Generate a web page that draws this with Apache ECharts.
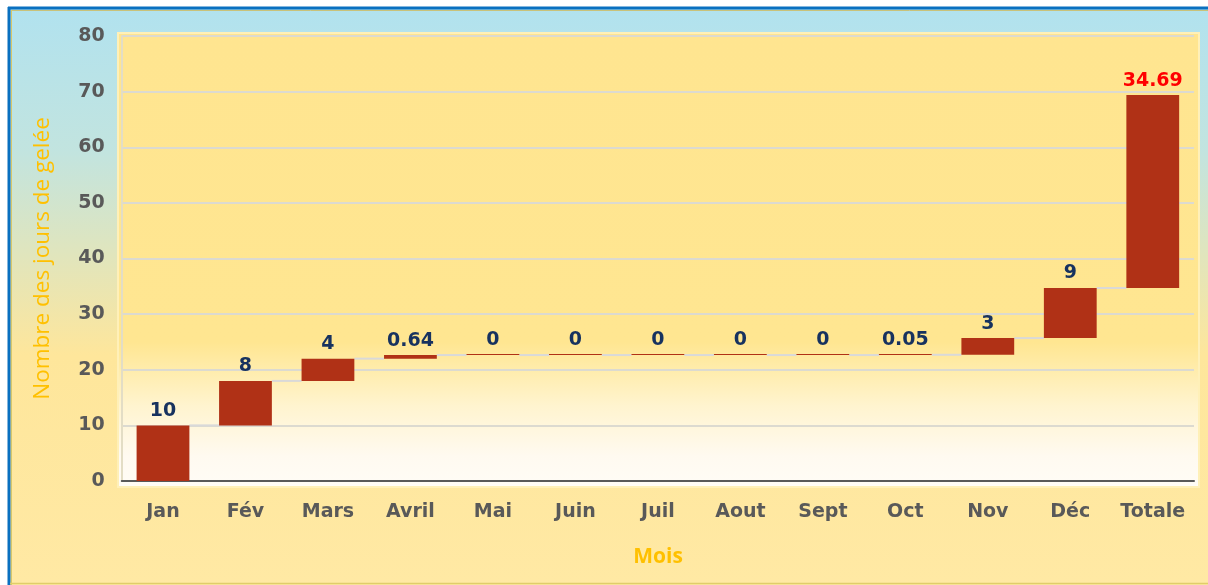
<!DOCTYPE html>
<html>
<head>
<meta charset="utf-8">
<script src="https://cdn.jsdelivr.net/npm/echarts@6/dist/echarts.min.js"></script>
<style>
html,body{margin:0;padding:0;background:#ffffff;}
#chart{width:1208px;height:585px;}
</style>
</head>
<body>
<div id="chart"></div>
<script>
var categories = ['Jan','Fév','Mars','Avril','Mai','Juin','Juil','Aout','Sept','Oct','Nov','Déc','Totale'];
var monthValues = [10, 8, 4, 0.64, 0, 0, 0, 0, 0, 0.05, 3, 9];
var totalValue = 34.69;
var yTicks = [0, 10, 20, 30, 40, 50, 60, 70, 80];

// waterfall bases derived from the monthly values
var bases = [];
var ends = [];
var run = 0;
for (var i = 0; i < monthValues.length; i++) {
  bases.push(+run.toFixed(2));
  run += monthValues[i];
  ends.push(+run.toFixed(2));
}
bases.push(+run.toFixed(2));
ends.push(+(run).toFixed(2));
var visible = monthValues.concat([totalValue]);

var connectorData = [];
for (var j = 0; j < categories.length - 1; j++) connectorData.push([j, ends[j]]);

var chart = echarts.init(document.getElementById('chart'), null, {renderer:'canvas'});
var numFont = '"DejaVu Sans", Verdana, sans-serif';

chart.setOption({
  animation: false,
  graphic: [
    {
      type: 'rect', z: -20, silent: true,
      shape: {x: 9, y: 7, width: 1205, height: 580},
      style: {
        fill: new echarts.graphic.LinearGradient(0, 0, 0, 1, [
          {offset: 0, color: '#b1e2ef'},
          {offset: 0.25, color: '#c2e4df'},
          {offset: 0.6, color: '#fee69b'},
          {offset: 1, color: '#ffe9a4'}
        ])
      }
    },
    {type: 'line', z: -19, silent: true, shape: {x1: 8, y1: 8, x2: 1210, y2: 8}, style: {stroke: '#0a70c0', lineWidth: 3}},
    {type: 'line', z: -19, silent: true, shape: {x1: 9, y1: 7, x2: 9, y2: 590}, style: {stroke: '#0a70c0', lineWidth: 3}},
    {type: 'line', z: -19, silent: true, shape: {x1: 11, y1: 10.5, x2: 1210, y2: 10.5}, style: {stroke: '#c9c27a', lineWidth: 1}},
    {type: 'line', z: -19, silent: true, shape: {x1: 11.5, y1: 10, x2: 11.5, y2: 590}, style: {stroke: '#d8c86a', lineWidth: 1}},
    {type: 'line', z: -19, silent: true, shape: {x1: 10, y1: 583.5, x2: 1210, y2: 583.5}, style: {stroke: '#e0cd6a', lineWidth: 1.5}},
    {
      type: 'rect', z: -18, silent: true,
      shape: {x: 118, y: 33, width: 1081, height: 454},
      style: {
        fill: new echarts.graphic.LinearGradient(0, 0, 0, 1, [
          {offset: 0, color: '#ffe590'},
          {offset: 0.68, color: '#ffe691'},
          {offset: 0.82, color: '#fff4cf'},
          {offset: 0.93, color: '#fffaf0'},
          {offset: 1, color: '#fffcf6'}
        ]),
        stroke: '#fff0b8', lineWidth: 2
      }
    },
    {
      type: 'text', x: 658, y: 557, silent: true,
      style: {text: 'Mois', fill: '#ffc000', align: 'center', verticalAlign: 'middle', font: 'bold 21px "Open Sans", "Noto Sans", sans-serif'}
    }
  ],
  grid: {left: 121.75, right: 14, top: 36, bottom: 104, containLabel: false},
  xAxis: {
    type: 'category',
    data: categories,
    axisLine: {show: true, lineStyle: {color: '#595959', width: 2}},
    axisTick: {show: false},
    axisLabel: {interval: 0, color: '#595959', fontFamily: numFont, fontWeight: 'bold', fontSize: 19, margin: 22}
  },
  yAxis: {
    type: 'value',
    min: yTicks[0], max: yTicks[yTicks.length - 1], interval: 10,
    name: 'Nombre des jours de gelée',
    nameLocation: 'middle',
    nameGap: 68,
    nameRotate: 90,
    nameTextStyle: {color: '#ffc000', fontSize: 22.5, fontFamily: '"Open Sans", "Noto Sans", sans-serif'},
    axisLine: {show: true, lineStyle: {color: '#e3ddc5', width: 2}},
    axisTick: {show: false},
    axisLabel: {color: '#595959', fontFamily: numFont, fontWeight: 'bold', fontSize: 19, margin: 17},
    splitLine: {lineStyle: {color: '#dcdad0', width: 2}}
  },
  series: [
    {
      type: 'custom',
      silent: true,
      z: 1,
      data: connectorData,
      renderItem: function (params, api) {
        var idx = api.value(0);
        var val = api.value(1);
        var p = api.coord([idx, val]);
        var band = api.size([1, 0])[0];
        var half = band * 0.32;
        return {
          type: 'line',
          shape: {x1: p[0] + half, y1: p[1], x2: p[0] + band - half, y2: p[1]},
          style: {stroke: '#d9d9d9', lineWidth: 2}
        };
      }
    },
    {
      type: 'bar', stack: 'w', silent: true, z: 2,
      data: bases,
      itemStyle: {color: 'transparent'},
      barWidth: '64%'
    },
    {
      type: 'bar', stack: 'w', z: 3,
      data: visible.map(function (v, k) {
        var item = {value: v};
        if (k === visible.length - 1) item.label = {color: '#ff0000'};
        return item;
      }),
      barWidth: '64%',
      barMinHeight: 1,
      itemStyle: {color: '#b03116'},
      label: {
        show: true, position: 'top', distance: 5,
        color: '#17325f', fontFamily: numFont, fontWeight: 'bold', fontSize: 19
      }
    }
  ]
});
</script>
</body>
</html>
